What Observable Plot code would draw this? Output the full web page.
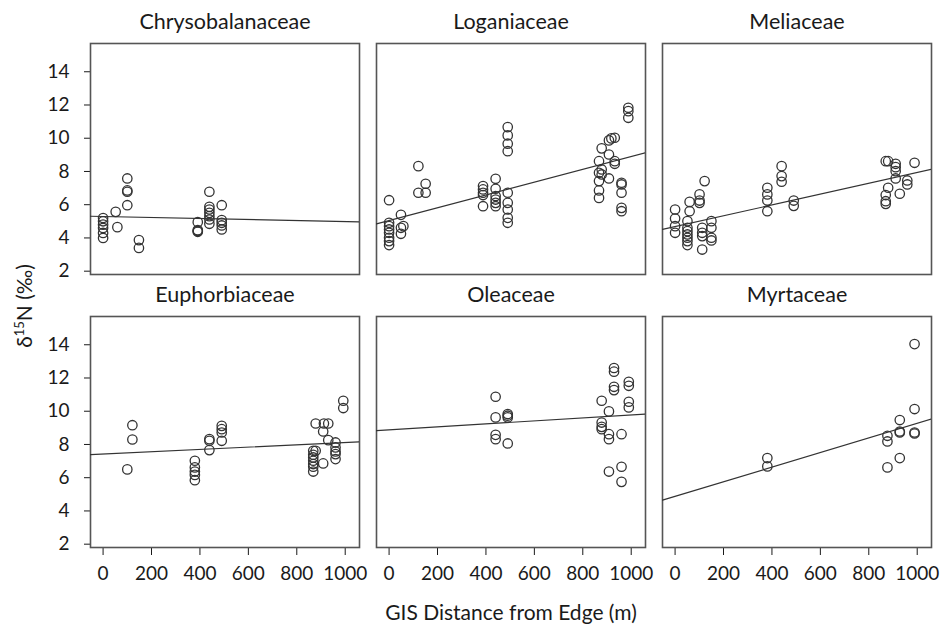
<!DOCTYPE html>
<html><head><meta charset="utf-8">
<script src="https://cdn.jsdelivr.net/npm/d3@7"></script>
<script src="https://cdn.jsdelivr.net/npm/@observablehq/plot@0.6"></script>
<style>body{margin:0;background:#fff} svg{display:block}</style>
</head><body><div id="chart"></div>
<script>
const families = ["Chrysobalanaceae","Loganiaceae","Meliaceae","Euphorbiaceae","Oleaceae","Myrtaceae"];
const xTicks = [0,200,400,600,800,1000];
const yTicks = [2,4,6,8,10,12,14];
const fitIntercept = [5.29, 5.05, 4.68, 7.42, 8.88, 4.88];
const fitSlope = [-0.000306, 0.00385, 0.00326, 0.0007, 0.0009, 0.00439];

const chrysobalanaceaeDist = [0,0,0,0,0,0, 52,59, 100,100,100,100, 148,148, 391,391,391,391, 439,439,439,439,439,439,439, 490,490,490,490,490];
const chrysobalanaceaeN15  = [5.2,5.0,4.8,4.6,4.3,4.0, 5.57,4.65, 7.58,6.86,6.78,5.97, 3.87,3.40, 4.95,4.47,4.42,4.37, 6.78,5.87,5.71,5.51,5.31,5.11,4.85, 5.97,5.07,4.91,4.75,4.51];

const loganiaceaeDist = [0,0,0,0,0,0,0,0, 49,49,49,59, 121,121,151,151, 388,388,388,388,388, 440,440,440,440,440,440, 490,490,490,490,490,490,490,490,490, 867,867,867,867,867, 878,878,878, 908,908,908, 918, 932,932,932, 960,960,960,960,960, 988,988,988];
const loganiaceaeN15  = [6.27,4.91,4.71,4.51,4.31,4.01,3.81,3.57, 5.39,4.61,4.25,4.71, 8.32,6.72,7.26,6.72, 7.12,6.92,6.72,6.58,5.91, 7.56,6.96,6.52,6.31,6.11,5.91, 10.67,10.17,9.67,9.22,6.72,6.11,5.71,5.21,4.91, 8.62,7.92,7.42,6.86,6.41, 9.39,8.12,7.82, 9.87,9.02,7.58, 9.99, 10.03,8.62,8.46, 7.32,7.22,6.72,5.81,5.61, 11.83,11.63,11.23];

const meliaceaeDist = [0,0,0,0, 51,51,51,51,51,51,51, 60,60, 101,101,101, 112,112,112,112, 122, 150,150,150,150, 381,381,381,381, 440,440,440, 490,490, 870,870,870,870, 880,880, 911,911,911,911, 928, 959,959, 989];
const meliaceaeN15  = [5.71,5.17,4.71,4.31, 5.01,4.61,4.41,4.21,4.01,3.81,3.57, 6.17,5.61, 6.62,6.25,6.11, 4.61,4.31,4.11,3.30, 7.42, 5.01,4.61,4.01,3.85, 7.02,6.62,6.25,5.61, 8.32,7.72,7.38, 6.25,5.93, 8.62,6.58,6.21,6.05, 8.62,7.02, 8.46,8.26,8.02,7.58, 6.66, 7.46,7.22, 8.52];

const euphorbiaceaeDist = [100, 121,121, 379,379,379,379,379, 439,439,439, 490,490,490,490, 868,868,868,868,868,868,868, 878,878, 909,909, 912, 930,930, 960,960,960,960,960, 992,992];
const euphorbiaceaeN15  = [6.50, 9.16,8.30, 7.02,6.62,6.37,6.17,5.85, 8.32,8.22,7.66, 9.12,8.92,8.72,8.22, 7.62,7.38,7.22,7.02,6.82,6.66,6.37, 9.26,7.62, 8.78,6.86, 9.26, 9.26,8.26, 8.12,7.82,7.58,7.42,7.12, 10.63,10.19];

const oleaceaeDist = [440,440,440,440, 490,490,490,490, 878,878,878,878, 908,908,908,908, 929,929,929,929, 960,960,960, 990,990,990,990];
const oleaceaeN15  = [10.87,9.63,8.58,8.32, 9.83,9.73,9.63,8.06, 10.63,9.32,9.06,8.92, 9.99,8.62,8.32,6.37, 12.60,12.38,11.47,11.27, 8.62,6.66,5.75, 11.77,11.53,10.57,10.23];

const myrtaceaeDist = [381,381, 877,877,877, 928,928,928,928, 989,989,989,989];
const myrtaceaeN15  = [7.18,6.68, 8.52,8.18,6.62, 9.47,8.78,8.72,7.18, 14.04,10.13,8.72,8.66];

const distances = [chrysobalanaceaeDist, loganiaceaeDist, meliaceaeDist, euphorbiaceaeDist, oleaceaeDist, myrtaceaeDist];
const values = [chrysobalanaceaeN15, loganiaceaeN15, meliaceaeN15, euphorbiaceaeN15, oleaceaeN15, myrtaceaeN15];

const xDomain = [-52, 1059];
const yDomain = [1.8, 15.7];

const points = [];
families.forEach((f, i) => distances[i].forEach((x, j) => points.push({family: f, col: i % 3, row: Math.floor(i / 3), x, y: values[i][j]})));
const fits = families.flatMap((f, i) => xDomain.map(x => ({family: f, col: i % 3, row: Math.floor(i / 3), x, y: fitIntercept[i] + fitSlope[i] * x})));
const titles = families.map((f, i) => ({family: f, col: i % 3, row: Math.floor(i / 3)}));

const FONT = "Lato, 'Open Sans', sans-serif";
const plot = Plot.plot({
  width: 946, height: 628,
  marginLeft: 89, marginRight: 13, marginTop: 43, marginBottom: 81,
  style: {fontFamily: FONT, fontSize: "19px", color: "#1a1a1a", background: "#fff", overflow: "visible"},
  fx: {domain: [0, 1, 2], axis: null, paddingInner: 0.059, paddingOuter: 0},
  fy: {domain: [0, 1], axis: null, paddingInner: 0.154, paddingOuter: 0},
  x: {domain: xDomain, ticks: xTicks, tickFormat: d3.format("d"), tickSize: 8, tickPadding: 11, label: null},
  y: {domain: yDomain, ticks: yTicks, tickFormat: d3.format("d"), tickSize: 6, tickPadding: 15, label: null},
  marks: [
    Plot.frame({stroke: "#555", strokeWidth: 1.6}),
    Plot.line(fits, {fx: "col", fy: "row", x: "x", y: "y", stroke: "#333", strokeWidth: 1.2, clip: true}),
    Plot.dot(points, {fx: "col", fy: "row", x: "x", y: "y", r: 4.7, stroke: "#333", strokeWidth: 1.3, fill: "none"}),
    Plot.text(titles, {fx: "col", fy: "row", text: "family", frameAnchor: "top", lineAnchor: "bottom", dy: -15, fontSize: 21.5, fill: "#1a1a1a"})
  ]
});
document.getElementById("chart").appendChild(plot);

const svg = d3.select(plot);
svg.append("text")
  .attr("x", 511).attr("y", 620)
  .attr("text-anchor", "middle")
  .attr("font-size", 21).attr("fill", "#1a1a1a")
  .text("GIS Distance from Edge (m)");
const yl = svg.append("text")
  .attr("transform", "translate(32,306) rotate(-90)")
  .attr("text-anchor", "middle")
  .attr("font-size", 21).attr("fill", "#1a1a1a");
yl.append("tspan").text("δ");
yl.append("tspan").attr("font-size", 13).attr("dy", -8).text("15");
yl.append("tspan").attr("dy", 8).text("N (‰)");
</script>
</body></html>
